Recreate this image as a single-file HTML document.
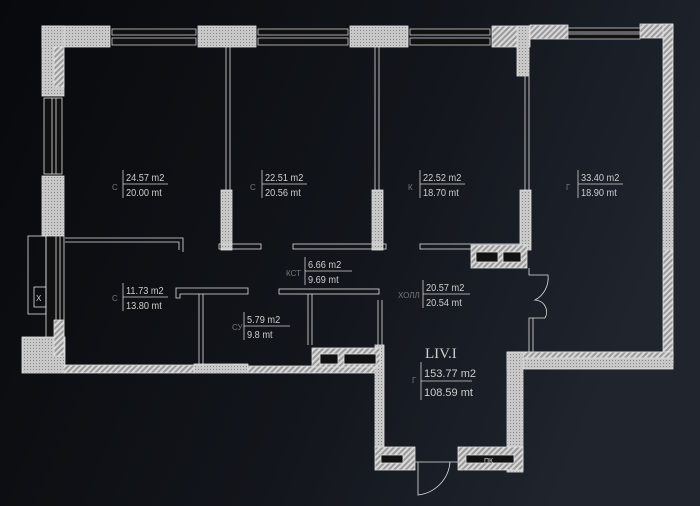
<!DOCTYPE html>
<html><head><meta charset="utf-8"><style>
html,body{margin:0;padding:0;width:700px;height:506px;overflow:hidden;background:#0c0e12}
svg{display:block}
text{font-family:"Liberation Sans",sans-serif;fill:#cfcfcf}
</style></head><body>
<svg width="700" height="506" viewBox="0 0 700 506" style="font-size:9px">
<defs>
<linearGradient id="bg" x1="0" y1="0" x2="1" y2="0.3">
<stop offset="0" stop-color="#08090c"/><stop offset="0.6" stop-color="#12151b"/><stop offset="1" stop-color="#1f242d"/>
</linearGradient>
<pattern id="h" width="4" height="4" patternUnits="userSpaceOnUse" patternTransform="rotate(45)">
<rect width="4" height="4" fill="#9a9a9a"/><rect width="2" height="4" fill="#dadada"/>
</pattern>
<pattern id="d" width="3" height="3" patternUnits="userSpaceOnUse">
<rect width="3" height="3" fill="#c8c8c8"/><rect width="1" height="1" fill="#8a8a8a"/>
</pattern>
</defs>
<rect width="700" height="506" fill="url(#bg)"/>
<g stroke="#e0e0e0" stroke-width="0.8">
<rect x="42" y="26" width="68" height="21" fill="url(#d)"/>
<rect x="198" y="26" width="58" height="21" fill="url(#d)"/>
<rect x="350" y="26" width="58" height="21" fill="url(#d)"/>
<rect x="492" y="26" width="38" height="21" fill="url(#h)"/>
<rect x="517" y="26" width="12" height="50" fill="url(#d)"/>
<rect x="530" y="25" width="38" height="14" fill="url(#h)"/>
<rect x="640" y="24" width="33" height="14" fill="url(#h)"/>
<g fill="#111" stroke="#cfcfcf">
<rect x="112" y="29" width="84" height="6"/><rect x="112" y="38" width="84" height="7"/>
<rect x="258" y="29" width="90" height="6"/><rect x="258" y="38" width="90" height="7"/>
<rect x="410" y="29" width="80" height="6"/><rect x="410" y="38" width="80" height="7"/>
<rect x="568" y="28" width="72" height="4"/><rect x="568" y="34" width="72" height="5"/>
</g>
<rect x="42" y="26" width="22" height="70" fill="url(#d)"/>
<rect x="54" y="47" width="10" height="40" fill="url(#h)"/>
<rect x="44" y="98" width="18" height="76" fill="#111"/>
<line x1="52" y1="98" x2="52" y2="174"/><line x1="56" y1="98" x2="56" y2="174"/>
<rect x="42" y="176" width="22" height="60" fill="url(#d)"/>
<rect x="46" y="236" width="18" height="102" fill="#111"/>
<line x1="56" y1="236" x2="56" y2="338"/><line x1="60" y1="236" x2="60" y2="338"/>
<rect x="28" y="236" width="18" height="78" fill="none"/>
<rect x="34" y="287" width="12" height="20" fill="none"/>
<text x="36" y="301" style="font-size:8px" stroke="none">X</text>
<rect x="22" y="337" width="43" height="36" fill="url(#d)"/>
<rect x="54" y="320" width="10" height="36" fill="url(#h)"/>
<rect x="64" y="365" width="130" height="8" fill="url(#h)"/>
<rect x="194" y="364" width="54" height="9" fill="url(#d)"/>
<rect x="248" y="366" width="131" height="7" fill="url(#h)"/>
<rect x="663" y="24" width="10" height="166" fill="url(#h)"/>
<rect x="663" y="190" width="10" height="60" fill="url(#d)"/>
<rect x="663" y="250" width="10" height="115" fill="url(#h)"/>
<rect x="507" y="352" width="166" height="17" fill="url(#d)"/>
<rect x="507" y="352" width="166" height="6" fill="url(#h)"/>
<rect x="507" y="352" width="16" height="120" fill="url(#d)"/>
<rect x="375" y="345" width="9" height="105" fill="url(#d)"/>
<rect x="375" y="447" width="40" height="23" fill="url(#h)"/>
<rect x="381" y="455" width="22" height="8" fill="#111"/>
<rect x="458" y="447" width="65" height="23" fill="url(#h)"/>
<rect x="466" y="455" width="48" height="8" fill="#111"/>
<text x="484" y="463" style="font-size:7px" stroke="none">ПК</text>
<path d="M415 462 H458 M418 462 V495 A36 36 0 0 0 450 462" fill="none"/>
<line x1="226" y1="47" x2="226" y2="190"/><line x1="230" y1="47" x2="230" y2="190"/>
<rect x="221" y="190" width="11" height="60" fill="url(#d)"/>
<line x1="375" y1="47" x2="375" y2="190"/><line x1="379" y1="47" x2="379" y2="190"/>
<rect x="372" y="190" width="11" height="60" fill="url(#d)"/>
<line x1="525" y1="76" x2="525" y2="190"/><line x1="529" y1="76" x2="529" y2="190"/>
<rect x="520" y="190" width="11" height="60" fill="url(#d)"/>
<g fill="none">
<path d="M65 238 H183 V252 M65 242 H179 V250"/>
<rect x="219" y="244" width="42" height="5"/>
<rect x="293" y="244" width="93" height="5"/>
<rect x="420" y="244" width="100" height="5"/>
<path d="M176 288 H248 V294 H180 V298 H176 Z"/>
<rect x="279" y="289" width="100" height="5"/>
<path d="M199 294 V367 M203 294 V367 M308 294 V345 M312 294 V345"/>
<path d="M378 300 V345 M382 300 V345"/>
<path d="M529 268 V275 H548 A25 25 0 0 1 535 300 A12 12 0 0 1 545 318 H529 V352 M533 318 V352"/>
</g>
<rect x="471" y="245" width="56" height="23" fill="url(#h)"/>
<rect x="476" y="252" width="22" height="10" fill="#111"/>
<rect x="503" y="252" width="18" height="10" fill="#111"/>
<rect x="312" y="348" width="68" height="19" fill="url(#h)"/>
<rect x="320" y="354" width="18" height="10" fill="#111"/>
<rect x="344" y="354" width="32" height="10" fill="#111"/>
</g>
<g stroke="#d0d0d0" stroke-width="0.8">
<line x1="123" y1="170" x2="123" y2="198"/><line x1="123" y1="184" x2="168" y2="184"/>
<line x1="262" y1="170" x2="262" y2="198"/><line x1="262" y1="184" x2="307" y2="184"/>
<line x1="420" y1="170" x2="420" y2="198"/><line x1="420" y1="184" x2="465" y2="184"/>
<line x1="578" y1="170" x2="578" y2="198"/><line x1="578" y1="184" x2="623" y2="184"/>
<line x1="123" y1="283" x2="123" y2="311"/><line x1="123" y1="297" x2="168" y2="297"/>
<line x1="305" y1="257" x2="305" y2="285"/><line x1="305" y1="271" x2="352" y2="271"/>
<line x1="244" y1="312" x2="244" y2="340"/><line x1="244" y1="326" x2="290" y2="326"/>
<line x1="423" y1="280" x2="423" y2="308"/><line x1="423" y1="294" x2="470" y2="294"/>
<line x1="421" y1="362" x2="421" y2="400"/><line x1="421" y1="381" x2="472" y2="381"/>
</g>
<g style="font-size:10px">
<g transform="translate(126,0) scale(0.92,1)"><text x="0" y="181">24.57 m2</text><text x="0" y="196">20.00 mt</text></g>
<g transform="translate(265,0) scale(0.92,1)"><text x="0" y="181">22.51 m2</text><text x="0" y="196">20.56 mt</text></g>
<g transform="translate(423,0) scale(0.92,1)"><text x="0" y="181">22.52 m2</text><text x="0" y="196">18.70 mt</text></g>
<g transform="translate(581,0) scale(0.92,1)"><text x="0" y="181">33.40 m2</text><text x="0" y="196">18.90 mt</text></g>
<g transform="translate(126,0) scale(0.92,1)"><text x="0" y="294">11.73 m2</text><text x="0" y="309">13.80 mt</text></g>
<g transform="translate(308,0) scale(0.92,1)"><text x="0" y="268">6.66 m2</text><text x="0" y="283">9.69 mt</text></g>
<g transform="translate(247,0) scale(0.92,1)"><text x="0" y="323">5.79 m2</text><text x="0" y="338">9.8 mt</text></g>
<g transform="translate(426,0) scale(0.92,1)"><text x="0" y="291">20.57 m2</text><text x="0" y="306">20.54 mt</text></g>
</g>
<text x="425" y="358" style="font-size:15px;font-family:'Liberation Serif',serif">LIV.I</text>
<text x="424" y="377" style="font-size:11px">153.77 m2</text>
<text x="424" y="396" style="font-size:11px">108.59 mt</text>
<g style="font-size:8px">
<text x="112" y="190" style="fill:#777">С</text><text x="250" y="190" style="fill:#777">С</text>
<text x="408" y="190" style="fill:#777">К</text><text x="566" y="190" style="fill:#777">Г</text>
<text x="112" y="301" style="fill:#777">С</text><text x="286" y="276" style="fill:#777">КСТ</text>
<text x="232" y="330" style="fill:#777">СУ</text><text x="398" y="298" style="fill:#777">ХОЛЛ</text>
<text x="412" y="383" style="fill:#777">Г</text>
</g>
</svg>
</body></html>
